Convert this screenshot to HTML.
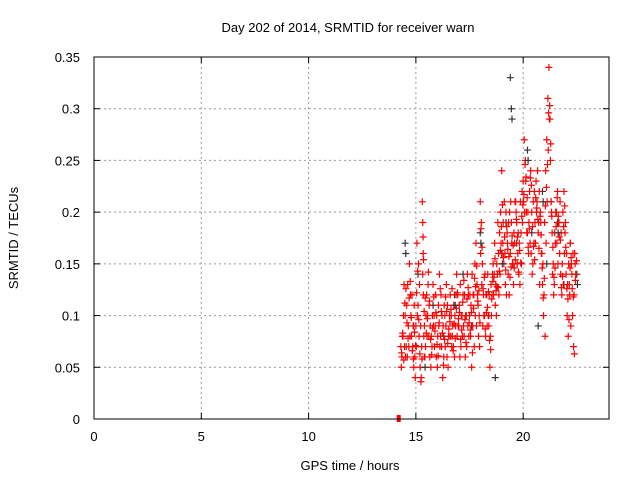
<!DOCTYPE html>
<html><head><meta charset="utf-8"><style>
body{margin:0;background:#fff}
svg{display:block;font-family:"Liberation Sans",sans-serif}
</style></head><body>
<svg id="chart" width="640" height="480" viewBox="0 0 640 480">
<rect width="640" height="480" fill="#fff"/>
<g id="grid"></g>
<g id="pts"></g>
<rect x="94" y="57" width="515" height="362" fill="none" stroke="#000" stroke-width="1"/>
<g id="ticks"></g>
<text x="348" y="32" font-size="13" text-anchor="middle">Day 202 of 2014, SRMTID for receiver warn</text>
<text x="350" y="470" font-size="13" text-anchor="middle">GPS time / hours</text>
<text x="18" y="238" font-size="13" text-anchor="middle" transform="rotate(-90 18 238)">SRMTID / TECUs</text>
</svg>
<script>
const xTicks=[0,5,10,15,20];
const yTicks=[0,0.05,0.1,0.15,0.2,0.25,0.3,0.35];
const yLabels=["0","0.05","0.1","0.15","0.2","0.25","0.3","0.35"];
const redT=[14.3,14.35,14.4,14.45,14.5,14.55,14.6,14.65,14.7,14.75,14.8,14.85,14.9,14.95,15.0,15.05,15.1,15.15,15.2,15.25,15.3,15.32,15.35,15.4,15.45,15.5,15.55,15.6,15.65,15.7,15.75,15.8,15.85,15.9,15.95,16.0,16.05,16.1,16.15,16.2,16.25,16.3,16.35,16.4,16.45,16.5,16.55,16.6,16.65,16.7,16.75,16.8,16.85,16.9,16.95,17.0,17.05,17.1,17.15,17.2,17.25,17.3,17.35,17.4,17.45,17.5,17.55,17.6,17.65,17.7,17.75,17.8,17.85,17.9,17.95,18.0,18.05,18.1,18.15,18.2,18.25,18.3,18.35,18.4,18.45,18.5,18.55,18.6,18.65,18.7,18.75,18.8,18.85,18.9,18.95,19.0,19.05,19.1,19.15,19.2,19.25,19.3,19.35,19.4,19.45,19.5,19.55,19.6,19.65,19.7,19.75,19.8,19.85,19.9,19.95,20.0,20.05,20.1,20.15,20.2,20.25,20.3,20.35,20.4,20.45,20.5,20.55,20.6,20.65,20.7,20.75,20.8,20.85,20.9,20.95,21.0,21.05,21.1,21.15,21.2,21.25,21.3,21.35,21.4,21.45,21.5,21.55,21.6,21.65,21.7,21.75,21.8,21.85,21.9,21.95,22.0,22.05,22.1,22.15,22.2,22.25,22.3,22.35,22.4,22.45,22.5,22.55];
const redA=[0.07,0.06,0.08,0.13,0.1,0.07,0.06,0.09,0.15,0.12,0.08,0.07,0.05,0.06,0.09,0.17,0.11,0.08,0.05,0.04,0.21,0.19,0.12,0.09,0.07,0.12,0.1,0.08,0.06,0.05,0.07,0.13,0.1,0.09,0.06,0.05,0.11,0.14,0.08,0.07,0.04,0.06,0.1,0.09,0.06,0.05,0.08,0.12,0.1,0.08,0.07,0.06,0.09,0.14,0.12,0.09,0.06,0.07,0.1,0.12,0.08,0.06,0.1,0.14,0.12,0.1,0.08,0.05,0.09,0.12,0.15,0.17,0.13,0.11,0.1,0.21,0.19,0.15,0.12,0.1,0.08,0.12,0.14,0.09,0.05,0.13,0.12,0.15,0.14,0.11,0.1,0.14,0.16,0.18,0.2,0.24,0.17,0.15,0.16,0.2,0.18,0.14,0.12,0.16,0.19,0.15,0.13,0.17,0.21,0.19,0.16,0.14,0.13,0.18,0.22,0.23,0.27,0.25,0.2,0.18,0.16,0.22,0.24,0.2,0.15,0.17,0.19,0.23,0.21,0.18,0.22,0.2,0.16,0.13,0.1,0.19,0.24,0.27,0.31,0.34,0.29,0.21,0.18,0.15,0.13,0.17,0.2,0.22,0.19,0.16,0.14,0.12,0.2,0.22,0.18,0.14,0.1,0.08,0.13,0.17,0.15,0.1,0.07,0.16,0.14];
const redB=[0.05,0.08,0.1,0.07,0.06,0.11,0.13,0.07,0.08,0.1,0.12,0.09,0.11,0.04,0.07,0.1,0.15,0.13,0.09,0.07,0.14,0.16,0.08,0.06,0.1,0.08,0.13,0.11,0.09,0.08,0.1,0.09,0.07,0.12,0.1,0.08,0.09,0.07,0.12,0.1,0.09,0.11,0.07,0.13,0.11,0.08,0.1,0.08,0.07,0.09,0.11,0.1,0.12,0.08,0.09,0.11,0.13,0.1,0.08,0.09,0.12,0.1,0.07,0.09,0.08,0.12,0.11,0.14,0.12,0.07,0.1,0.09,0.12,0.08,0.07,0.16,0.13,0.09,0.1,0.14,0.12,0.09,0.1,0.12,0.08,0.1,0.14,0.12,0.17,0.13,0.15,0.19,0.12,0.14,0.17,0.16,0.19,0.21,0.13,0.12,0.17,0.19,0.2,0.21,0.17,0.15,0.18,0.21,0.2,0.15,0.18,0.17,0.21,0.15,0.19,0.21,0.2,0.23,0.18,0.2,0.19,0.17,0.16,0.14,0.21,0.22,0.17,0.2,0.24,0.19,0.13,0.19,0.16,0.15,0.12,0.08,0.17,0.21,0.26,0.29,0.25,0.2,0.14,0.12,0.18,0.2,0.17,0.15,0.19,0.21,0.18,0.15,0.13,0.16,0.19,0.16,0.13,0.15,0.12,0.09,0.14,0.16,0.12,0.15];
const redC=[0.064,0.083,0.057,0.112,0.126,0.093,0.078,0.117,0.133,0.098,0.066,0.058,0.084,0.071,0.122,0.143,0.096,0.063,0.036,0.058,0.176,0.154,0.104,0.117,0.083,0.097,0.142,0.114,0.077,0.062,0.088,0.118,0.085,0.103,0.072,0.061,0.093,0.126,0.104,0.083,0.052,0.077,0.118,0.104,0.073,0.087,0.094,0.106,0.126,0.066,0.092,0.078,0.107,0.122,0.097,0.103,0.077,0.086,0.113,0.134,0.096,0.074,0.116,0.127,0.093,0.086,0.103,0.064,0.107,0.136,0.128,0.148,0.114,0.124,0.093,0.184,0.166,0.126,0.137,0.087,0.103,0.108,0.123,0.076,0.067,0.116,0.133,0.137,0.155,0.124,0.128,0.127,0.143,0.163,0.186,0.207,0.156,0.176,0.144,0.186,0.164,0.157,0.137,0.147,0.177,0.168,0.146,0.154,0.193,0.176,0.142,0.163,0.151,0.196,0.207,0.217,0.246,0.234,0.214,0.166,0.184,0.233,0.226,0.186,0.167,0.154,0.214,0.204,0.193,0.165,0.196,0.178,0.146,0.117,0.136,0.206,0.224,0.246,0.296,0.303,0.266,0.196,0.166,0.137,0.146,0.186,0.214,0.196,0.176,0.173,0.127,0.138,0.186,0.206,0.166,0.126,0.116,0.096,0.146,0.156,0.126,0.118,0.063,0.134,0.153];
const darkT=[14.5,14.9,15.1,15.4,15.8,16.3,16.8,17.2,17.6,18.0,18.4,18.7,19.0,19.2,19.4,19.45,19.7,20.0,20.2,20.4,20.7,20.9,21.1,21.3,21.6,21.9,22.2,22.5];
const darkV=[0.17,0.09,0.14,0.06,0.11,0.08,0.12,0.14,0.09,0.18,0.1,0.04,0.16,0.19,0.33,0.3,0.17,0.21,0.26,0.18,0.09,0.22,0.15,0.21,0.19,0.13,0.17,0.14];
const X=t=>94+t*(515/24), Y=v=>419-v*(362/0.35);
const ns="http://www.w3.org/2000/svg";
const grid=document.getElementById('grid'),ticks=document.getElementById('ticks'),pts=document.getElementById('pts');
function mk(tag,attrs,parent){const e=document.createElementNS(ns,tag);for(const k in attrs)e.setAttribute(k,attrs[k]);parent.appendChild(e);return e;}
xTicks.forEach(t=>{const x=X(t);
 if(t>0){const g=mk('line',{x1:x,x2:x,y1:57,y2:419,stroke:'#999','stroke-dasharray':'2,3'},grid);
 
 }
 mk('line',{x1:x,x2:x,y1:419,y2:413,stroke:'#000'},ticks);mk('line',{x1:x,x2:x,y1:57,y2:63,stroke:'#000'},ticks);
 const l=mk('text',{x:x,y:441,'font-size':13,'text-anchor':'middle'},ticks);l.textContent=t;
 
 });
yTicks.forEach((v,i)=>{const y=Y(v);
 if(v>0&&v<0.35){const g=mk('line',{x1:94,x2:609,y1:y,y2:y,stroke:'#999','stroke-dasharray':'2,3'},grid);
 
 }
 mk('line',{x1:94,x2:100,y1:y,y2:y,stroke:'#000'},ticks);mk('line',{x1:603,x2:609,y1:y,y2:y,stroke:'#000'},ticks);
 const l=mk('text',{x:80,y:y+5,'font-size':13,'text-anchor':'end'},ticks);l.textContent=yLabels[i];
 
 });
function plus(t,v,col,name){const x=X(t),y=Y(v);
 const p=mk('path',{d:`M${x-3.5},${y}h7M${x},${y-3.5}v7`,stroke:col,'stroke-width':1.2},pts);
 
 }
darkT.forEach((t,i)=>plus(t,darkV[i],'#333','dark-point'));
redT.forEach((t,i)=>{plus(t,redA[i],'#f00','red-point');plus(t+0.02,redB[i],'#f00','red-point');plus(t+0.035,redC[i],'#f00','red-point');});
darkT.forEach((t,i)=>{if(i%3==0)plus(t+0.03,darkV[i]-0.01,'#333','dark-point');});
const sq=mk('rect',{x:X(14.2)-2,y:Y(0)-4,width:4,height:7,fill:'#f00'},pts);


</script>
</body></html>
